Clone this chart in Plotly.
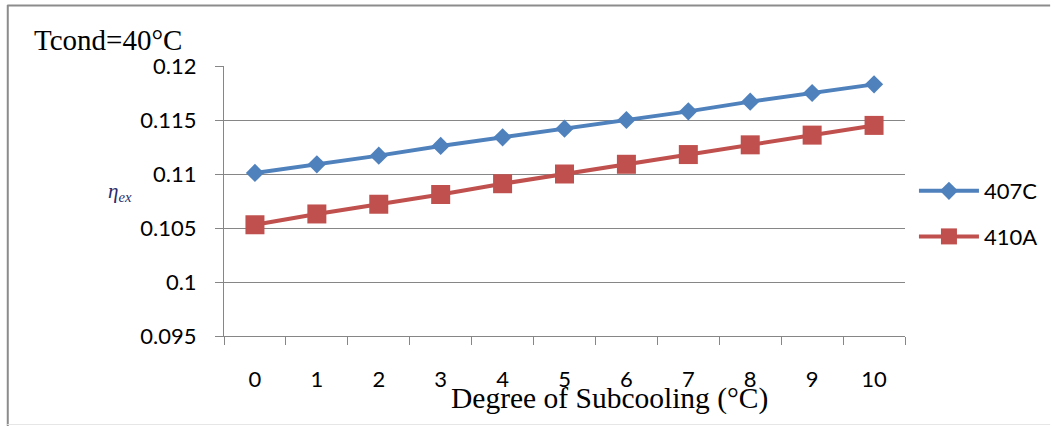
import plotly.graph_objects as go

# Degree of subcooling (°C) and exergy efficiency for each refrigerant
subcooling = ["0", "1", "2", "3", "4", "5", "6", "7", "8", "9", "10"]
eta_407c = [0.1101, 0.1109, 0.1117, 0.1126, 0.1134, 0.1142, 0.1150, 0.1158, 0.1167, 0.1175, 0.1183]
eta_410a = [0.1053, 0.1063, 0.1072, 0.1081, 0.1091, 0.1100, 0.1109, 0.1118, 0.1127, 0.1136, 0.1145]
y_ticks = [0.095, 0.1, 0.105, 0.11, 0.115, 0.12]
y_tick_text = ["0.095", "0.1", "0.105", "0.11", "0.115", "0.12"]

W, H = 1055, 426
L, R, T, B = 224, 146, 66, 90
PW, PH = W - L - R, H - T - B


def px(x):
    return (x - L) / PW


def py(y):
    return (H - B - y) / PH


BLUE = "#4F81BD"
RED = "#C0504D"
GRID = "#868686"
TICK_FONT = dict(family="Lato, Carlito, sans-serif", size=22, color="#000000")
SERIF = "Liberation Serif, Times New Roman, serif"

fig = go.Figure()
fig.add_trace(go.Scatter(
    x=subcooling, y=eta_407c, name="407C", mode="lines+markers",
    line=dict(color=BLUE, width=4),
    marker=dict(symbol="diamond", size=14, color=BLUE),
    legendgroup="a",
))
fig.add_trace(go.Scatter(
    x=subcooling, y=eta_410a, name="410A", mode="lines+markers",
    line=dict(color=RED, width=4),
    marker=dict(symbol="square", size=19, color=RED),
    legendgroup="b",
))

fig.update_layout(
    width=W, height=H,
    margin=dict(l=L, r=R, t=T, b=B),
    paper_bgcolor="white", plot_bgcolor="white",
    showlegend=True,
    legend=dict(
        x=px(918), y=py(170), xanchor="left", yanchor="top",
        font=TICK_FONT, itemwidth=60, tracegroupgap=14,
        bgcolor="rgba(0,0,0,0)",
    ),
    xaxis=dict(
        type="category", range=[-0.5, len(subcooling) - 0.5],
        tickson="boundaries", ticks="outside", ticklen=8,
        tickcolor=GRID, showline=True, linecolor=GRID, linewidth=1,
        showgrid=False, tickfont=TICK_FONT, ticklabelstandoff=24,
        zeroline=False,
    ),
    yaxis=dict(
        range=[0.095, 0.12], tickvals=y_ticks, ticktext=y_tick_text,
        ticks="outside", ticklen=8, tickcolor=GRID,
        showline=True, linecolor=GRID, linewidth=1,
        showgrid=True, gridcolor=GRID, gridwidth=1,
        tickfont=TICK_FONT, ticklabelstandoff=14, zeroline=False,
    ),
    shapes=[
        # chart frame
        dict(type="line", xref="paper", yref="paper",
             x0=px(6.5), x1=px(6.5), y0=py(5), y1=py(426),
             line=dict(color="#8c8c8c", width=2)),
        dict(type="line", xref="paper", yref="paper",
             x0=px(6), x1=px(1055), y0=py(5.5), y1=py(5.5),
             line=dict(color="#8c8c8c", width=2)),
        dict(type="line", xref="paper", yref="paper",
             x0=px(6), x1=px(1055), y0=py(424.5), y1=py(424.5),
             line=dict(color="#e6e6e6", width=1)),
    ],
    annotations=[
        dict(text="Tcond=40°C", xref="paper", yref="paper",
             x=px(31), y=py(40), xanchor="left", yanchor="middle",
             showarrow=False, font=dict(family=SERIF, size=29, color="#000000")),
        dict(text="Degree of Subcooling (°C)", xref="paper", yref="paper",
             x=px(612), y=py(398), xanchor="center", yanchor="middle",
             showarrow=False, font=dict(family=SERIF, size=29.5, color="#000000")),
        dict(text="<i>η<sub>ex</sub></i>", xref="paper", yref="paper",
             x=px(119), y=py(192), xanchor="center", yanchor="middle",
             showarrow=False, font=dict(family=SERIF, size=21, color="#2b2b6b")),
    ],
)

fig.write_html("out.html")
